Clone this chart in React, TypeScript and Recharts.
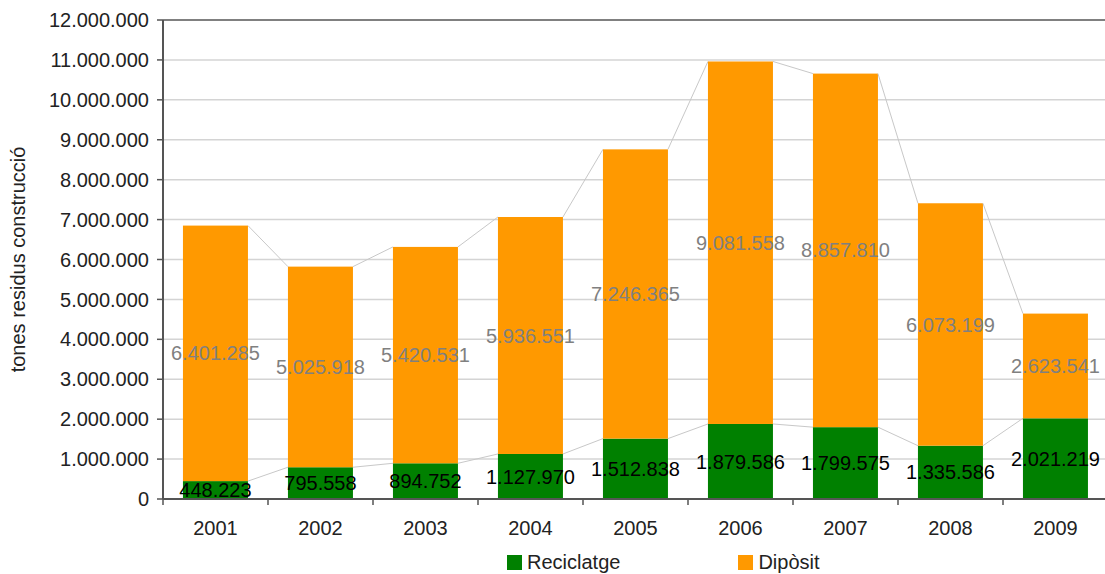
import React from "react";
import {
  BarChart,
  Bar,
  XAxis,
  YAxis,
  CartesianGrid,
  Legend,
  LabelList,
  ReferenceLine,
} from "recharts";

const years = ["2001", "2002", "2003", "2004", "2005", "2006", "2007", "2008", "2009"];
const reciclatge = [448223, 795558, 894752, 1127970, 1512838, 1879586, 1799575, 1335586, 2021219];
const diposit = [6401285, 5025918, 5420531, 5936551, 7246365, 9081558, 8857810, 6073199, 2623541];
const yTicks = [0, 1e6, 2e6, 3e6, 4e6, 5e6, 6e6, 7e6, 8e6, 9e6, 10e6, 11e6, 12e6];
const seriesNames = { reciclatge: "Reciclatge", diposit: "Dipòsit" };

const GREEN = "#008000";
const ORANGE = "#ff9900";
const FONT = "'Liberation Sans', Arial, sans-serif";
const TICK_SIZE = 6;
const TICK_MARGIN = 16;

const data = years.map((year, i) => ({
  year,
  reciclatge: reciclatge[i],
  diposit: diposit[i],
}));

// dotted thousands, e.g. 6.401.285
const fmt = (v: number) => String(Math.round(v)).replace(/\B(?=(\d{3})+(?!\d))/g, ".");

// remembers the top-right corner of the previous bar of each series,
// so each bar can draw the grey connector from its neighbour
const prevCorner: Record<string, { x: number; y: number } | null> = {};

const connectedShape = (key: string) => (props: any) => {
  const { x, y, width, height, fill, index } = props;
  if (index === 0) prevCorner[key] = null;
  const prev = prevCorner[key];
  prevCorner[key] = { x: x + width, y };
  return (
    <g>
      {prev && (
        <line x1={prev.x} y1={prev.y} x2={x} y2={y} stroke="#c8c8c8" strokeWidth={1} />
      )}
      <rect x={x} y={y} width={width} height={height} fill={fill} />
    </g>
  );
};

function YearTick(props: any) {
  const { x, y, payload, index, visibleTicksCount } = props;
  const half = payload?.offset ?? 52.5;
  const axisY = y - TICK_MARGIN - TICK_SIZE;
  const isLast = index === visibleTicksCount - 1;
  return (
    <g>
      <line x1={x - half} y1={axisY} x2={x - half} y2={axisY + TICK_SIZE} stroke="#555" strokeWidth={1.5} />
      {isLast && (
        <line x1={x + half} y1={axisY} x2={x + half} y2={axisY + TICK_SIZE} stroke="#555" strokeWidth={1.5} />
      )}
      <text x={x} y={y} dy="0.71em" textAnchor="middle" fontSize={20} fill="#222" fontFamily={FONT}>
        {payload.value}
      </text>
    </g>
  );
}

function LegendContent() {
  const items = [
    { name: seriesNames.reciclatge, color: GREEN },
    { name: seriesNames.diposit, color: ORANGE },
  ];
  return (
    <div style={{ display: "flex", alignItems: "center", marginLeft: 507, marginTop: 12, fontFamily: FONT }}>
      {items.map((it, i) => (
        <div key={it.name} style={{ display: "flex", alignItems: "center", marginRight: i === 0 ? 118 : 0 }}>
          <span style={{ width: 15, height: 15, background: it.color, display: "inline-block", marginRight: 5 }} />
          <span style={{ fontSize: 20, color: "#222" }}>{it.name}</span>
        </div>
      ))}
    </div>
  );
}

export default function App() {
  return (
    <div style={{ position: "fixed", left: 0, top: 0, width: 1105, height: 574, overflow: "hidden", background: "#fff" }}>
      <BarChart
        width={1110}
        height={574}
        data={data}
        margin={{ top: 20, right: 2, bottom: 0, left: 0 }}
        barCategoryGap="19%"
        style={{ fontFamily: FONT }}
      >
        <CartesianGrid vertical={false} stroke="#d4d4d4" strokeWidth={1.5} />
        <ReferenceLine y={12e6} stroke="#808080" strokeWidth={2} />
        <XAxis
          dataKey="year"
          height={40}
          tickLine={false}
          tickSize={TICK_SIZE}
          tickMargin={TICK_MARGIN}
          axisLine={{ stroke: "#555", strokeWidth: 2 }}
          tick={<YearTick />}
          interval={0}
        />
        <YAxis
          width={163}
          domain={[0, 12e6]}
          ticks={yTicks}
          interval={0}
          tickFormatter={fmt}
          tickSize={TICK_SIZE}
          tickMargin={8}
          tick={{ fontSize: 20, fill: "#222" }}
          tickLine={{ stroke: "#555", strokeWidth: 1.5 }}
          axisLine={{ stroke: "#555", strokeWidth: 2 }}
          label={{
            value: "tones residus construcció",
            angle: -90,
            position: "insideLeft",
            offset: 18,
            style: { textAnchor: "middle", fontSize: 20, fill: "#222" },
          }}
        />
        <Legend verticalAlign="bottom" height={35} wrapperStyle={{ left: 0, width: 1105 }} content={<LegendContent />} />
        <Bar
          dataKey="reciclatge"
          name={seriesNames.reciclatge}
          stackId="a"
          fill={GREEN}
          isAnimationActive={false}
          shape={connectedShape("reciclatge")}
        >
          <LabelList dataKey="reciclatge" position="center" formatter={(v: any) => fmt(Number(v))} fill="#000" fontSize={20} />
        </Bar>
        <Bar
          dataKey="diposit"
          name={seriesNames.diposit}
          stackId="a"
          fill={ORANGE}
          isAnimationActive={false}
          shape={connectedShape("diposit")}
        >
          <LabelList dataKey="diposit" position="center" formatter={(v: any) => fmt(Number(v))} fill="#808080" fontSize={20} />
        </Bar>
      </BarChart>
    </div>
  );
}
